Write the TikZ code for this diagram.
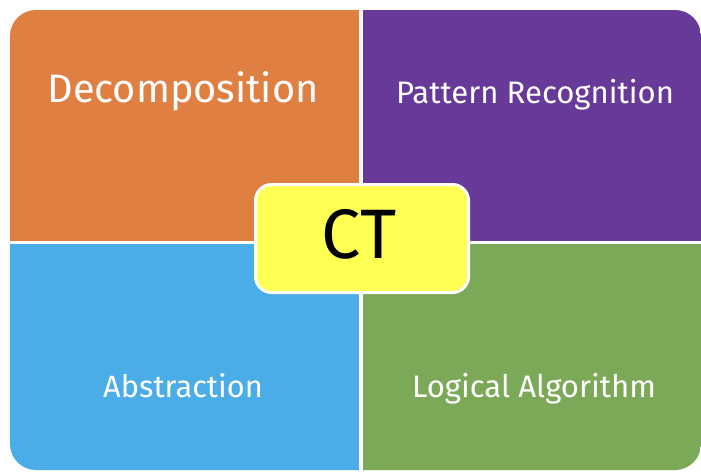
\documentclass[tikz,border=0pt]{standalone}
\usepackage{fontspec}
\newfontfamily\labelfont{Fira Sans}
\definecolor{qorange}{RGB}{223,128,66}
\definecolor{qpurple}{RGB}{103,57,152}
\definecolor{qblue}{RGB}{75,173,231}
\definecolor{qgreen}{RGB}{123,169,87}
\definecolor{qyellow}{RGB}{255,255,84}
\tikzset{
  lbl/.style={text=white, inner sep=0pt, anchor=base},
}
\begin{document}
\begin{tikzpicture}[x=1pt,y=-1pt]
\useasboundingbox (0,0) rectangle (701,471);
\fill[white] (0,0) rectangle (701,471);
% quadrants
\begin{scope}
\clip[rounded corners=26] (10,10) rectangle (701,470);
\fill[qorange] (0,0) rectangle (359,241);
\fill[qpurple] (363,0) rectangle (710,241);
\fill[qblue] (0,244) rectangle (359,480);
\fill[qgreen] (363,244) rectangle (710,480);
\end{scope}
% labels
\node[lbl, font=\labelfont\fontsize{39.7}{44}\selectfont] (dec) at (183,102) {Decomposition};
\node[lbl, font=\labelfont\fontsize{31.1}{36}\selectfont] (pat) at (535,103) {Pattern Recognition};
\node[lbl, font=\labelfont\fontsize{30.8}{36}\selectfont] (abs) at (183,397) {Abstraction};
\node[lbl, font=\labelfont\fontsize{31.1}{36}\selectfont] (log) at (534,397) {Logical Algorithm};
% centre
\node[draw=white, line width=3pt, fill=qyellow, rounded corners=16, minimum width=213, minimum height=108, inner sep=0pt] (ct) at (362,238.5) {};
\node[font=\labelfont\fontsize{70}{76}\selectfont, inner sep=0pt, anchor=base] (ctl) at (359,258) {CT};
\end{tikzpicture}
\end{document}
